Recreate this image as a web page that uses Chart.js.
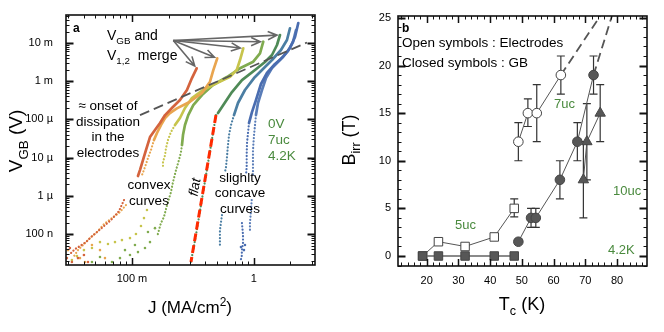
<!DOCTYPE html>
<html>
<head>
<meta charset="utf-8">
<script src="https://cdn.jsdelivr.net/npm/chart.js@4.4.1/dist/chart.umd.min.js"></script>
<style>
html, body { margin: 0; padding: 0; background: #fff; }
#wrap { position: relative; width: 664px; height: 332px; }
canvas { position: absolute; top: 0; }
#left { left: 0; }
#right { left: 332px; }
</style>
</head>
<body>
<div id="wrap">
  <canvas id="left" width="332" height="332"></canvas>
  <canvas id="right" width="332" height="332"></canvas>
</div>
<script>
// ---------- panel a : V_GB vs J ----------
const jTickValues = [0.1, 1];
const jTickLabels = ['100 m', '1'];
const vTickValues = [1e-2, 1e-3, 1e-4, 1e-5, 1e-6, 1e-7];
const vTickLabels = ['10 m', '1 m', '100 µ', '10 µ', '1 µ', '100 n'];

const curveColors = ['#d4633d', '#e9a54f', '#c7c44c', '#80ab4f', '#4f8a57', '#4b7ea3', '#4a6db0', '#5a7db8'];

const curve1Line = [[0.340,2.18e-3],[0.311,1.21e-3],[0.283,5.89e-4],[0.248,3.22e-4],[0.213,1.99e-4],[0.187,1.30e-4],[0.170,8.05e-5],[0.1545,5.28e-5],[0.1406,3.46e-5],[0.1303,1.58e-5],[0.1231,8.65e-6],[0.1163,4.73e-6],[0.1120,3.30e-6]];
const curve1Dots = [[[0.0860,7.76e-7],[0.0782,4.00e-7],[0.0672,2.32e-7],[0.0589,1.62e-7],[0.0516,1.13e-7],[0.0461,8.34e-8],[0.0419,6.17e-8],[0.0374,4.85e-8],[0.0340,4.04e-8],[0.0309,2.99e-8]]];
const curve1Scatter = [[0.0292,2.35e-8],[0.0321,1.85e-8],[0.0360,2.35e-8],[0.0403,2.82e-8],[0.0435,1.85e-8],[0.0309,4.30e-8]];

const curve2Line = [[0.502,3.98e-3],[0.466,1.96e-3],[0.4375,9.70e-4],[0.376,4.91e-4],[0.2997,2.90e-4],[0.234,1.95e-4],[0.205,1.47e-4],[0.187,1.09e-4],[0.173,7.13e-5],[0.1605,4.41e-5],[0.1516,2.89e-5]];
const curve2Dots = [[[0.1516,2.89e-5],[0.1432,1.58e-5],[0.1353,9.76e-6],[0.1279,5.67e-6],[0.1209,3.50e-6]],
  [[0.0893,5.74e-7],[0.0797,3.77e-7],[0.0685,2.62e-7],[0.0589,1.82e-7],[0.0516,1.13e-7],[0.0452,7.85e-8],[0.0403,5.47e-8],[0.0360,3.81e-8],[0.0334,2.65e-8]]];
const curve2Scatter = [[0.0298,3.81e-8],[0.0374,2.35e-8],[0.0469,5.15e-8],[0.0546,3.81e-8],[0.0600,2.35e-8],[0.0411,1.85e-8]];

const curve3Line = [[0.821,7.26e-3],[0.772,3.59e-3],[0.725,1.96e-3],[0.639,1.31e-3],[0.4995,8.97e-4],[0.383,5.89e-4],[0.311,3.63e-4],[0.2725,1.99e-4],[0.248,1.09e-4],[0.2256,7.13e-5]];
const curve3Dots = [[[0.2256,7.13e-5],[0.209,4.68e-5],[0.1976,2.89e-5],[0.1903,1.78e-5],[0.187,1.17e-5],[0.1798,7.67e-6],[0.1798,5.67e-6]]];
const curve3Scatter = [[0.1328,4.25e-7],[0.1255,2.62e-7],[0.1186,1.62e-7],[0.1078,1.00e-7],[0.0963,7.85e-8],[0.0827,6.96e-8],[0.0725,6.17e-8],[0.0635,5.47e-8],[0.0546,6.17e-8],[0.0469,4.30e-8],[0.0403,3.81e-8],[0.0353,2.65e-8],[0.0321,2.08e-8]];

const curve4Line = [[1.199,1.08e-2],[1.127,5.37e-3],[0.992,3.24e-3],[0.772,2.18e-3],[0.603,1.29e-3],[0.463,7.95e-4],[0.376,4.36e-4],[0.319,2.38e-4],[0.290,1.30e-4],[0.2725,7.13e-5],[0.2625,3.90e-5],[0.2575,2.14e-5]];
const curve4Dots = [[[0.2575,2.14e-5],[0.2527,1.40e-5],[0.2433,8.65e-6],[0.230,4.73e-6],[0.2173,2.30e-6],[0.208,1.18e-6],[0.194,5.74e-7],[0.183,2.79e-7],[0.173,1.94e-7],[0.1605,8.34e-8]]];
const curve4Scatter = [[0.1406,6.17e-8],[0.1279,4.30e-8],[0.1120,3.37e-8],[0.0963,2.82e-8],[0.0797,2.35e-8],[0.0685,1.85e-8],[0.0546,2.50e-8],[0.0469,1.85e-8],[0.0876,3.81e-8],[0.1058,5.15e-8],[0.1545,1.43e-7],[0.1353,1.13e-7]];

const curve5Line = [[1.645,1.62e-2],[1.554,8.87e-3],[1.414,4.85e-3],[1.238,3.18e-3],[1.025,1.96e-3],[0.801,1.07e-3],[0.663,5.21e-4],[0.570,2.53e-4],[0.509,1.47e-4]];
const curve5Dots = [[[0.490,1.30e-4],[0.446,2.14e-5],[0.4056,3.50e-6],[0.369,5.74e-7],[0.3356,9.41e-8],[0.3053,1.85e-8]]];

const curve6Line = [[1.987,2.43e-2],[1.877,1.20e-2],[1.676,6.56e-3],[1.414,3.59e-3],[1.215,2.22e-3],[1.006,1.21e-3],[0.848,5.89e-4],[0.743,2.69e-4],[0.689,1.30e-4]];
const curve6Dots = [[[0.689,1.30e-4],[0.651,7.13e-5],[0.627,3.90e-5],[0.615,2.14e-5],[0.603,1.04e-5],[0.592,5.67e-6],[0.581,4.19e-6]],
  [[0.549,3.14e-7],[0.539,2.06e-7],[0.528,1.27e-7],[0.528,7.85e-8],[0.528,4.56e-8]]];

const curve7Line = [[2.325,3.34e-2],[2.185,1.44e-2],[1.987,7.40e-3],[1.741,4.30e-3],[1.496,2.82e-3],[1.286,1.64e-3],[1.148,8.45e-4],[1.044,3.22e-4],[0.968,1.56e-4],[0.915,8.05e-5]];
const curve7Dots = [[[0.915,8.05e-5],[0.898,4.41e-5],[0.881,2.41e-5],[0.876,1.17e-5],[0.876,5.67e-6],[0.865,3.50e-6]],
  [[0.801,1.94e-7],[0.817,9.41e-8],[0.817,5.81e-8],[0.801,3.81e-8],[0.797,2.50e-8],[0.772,1.85e-8]]];
const curve7Scatter = [[0.832,3.81e-8],[0.848,5.15e-8],[0.786,4.56e-8]];

const curve8Line = [[2.227,2.19e-2],[2.103,1.06e-2],[1.913,6.17e-3],[1.645,3.59e-3],[1.414,2.22e-3],[1.262,1.21e-3],[1.170,5.89e-4],[1.085,2.69e-4],[1.044,1.30e-4]];
const curve8Dots = [[[1.044,1.30e-4],[1.025,7.13e-5],[1.006,3.90e-5],[0.987,1.58e-5],[0.987,6.40e-6],[0.987,3.50e-6]],
  [[0.963,7.76e-7],[0.950,4.25e-7],[0.932,1.94e-7],[0.932,1.13e-7]]];

const flatFit = [[0.490,1.30e-4],[0.3053,1.85e-8]];
const onsetLine = [[0.1164,1.30e-4],[2.74,1.03e-2]];
const mergeArrowFrom = [0.2185, 0.01162];

// ---------- panel b : B_irr vs Tc ----------
const tcTickValues = [20, 30, 40, 50, 60, 70, 80];
const bTickValues = [0, 5, 10, 15, 20, 25];

const tc5 = [18.7, 23.7, 32.1, 41.3, 47.6];
const bElec5 = [0, 1.5, 1.0, 2.0, 5.0];
const bElec5Lo = [0, 1.5, 1.0, 2.0, 4.1];
const bElec5Hi = [0, 1.5, 1.0, 2.0, 6.0];
const bGB5 = [0, 0, 0, 0, 0];

const tc7Elec = [48.9, 51.9, 54.7, 62.3];
const bElec7 = [12, 15, 15, 19];
const bElec7Lo = [10, 13.6, 12, 17];
const bElec7Hi = [14, 16.5, 18, 21];

const tc7GB = [48.9, 52.9, 54.4, 62.0, 67.5, 72.6];
const bGB7 = [1.5, 4, 4, 8, 12, 19];
const bGB7Lo = [1.5, 3, 3, 6, 10, 17];
const bGB7Hi = [1.5, 5, 5, 10, 14, 21];

const tc10 = [69.4, 70.5, 74.7];
const bGB10 = [8, 12, 15];
const bGB10Lo = [4, 8, 12];
const bGB10Hi = [12, 16, 18];

const elecTrend7 = [[62.3, 19], [74.7, 25.2]];
const gbTrend7 = [[72.6, 19], [78.4, 25.2]];

const FONT = '"Liberation Sans", Arial, Helvetica, sans-serif';
const GREEN = '#4a8a3e';

function pts(list) { return list.map(([x, y]) => ({ x, y })); }

function solid(list, color) {
    return { data: pts(list), showLine: true, borderColor: color, borderWidth: 2.7, pointRadius: 0,
        borderCapStyle: 'round', borderJoinStyle: 'round', order: 2 };
}
function dotted(list, color) {
    return { data: pts(list), showLine: true, borderColor: color, borderWidth: 2.2, pointRadius: 0,
        borderDash: [0.1, 3.2], borderCapStyle: 'round', order: 2 };
}
function specks(list, color) {
    return { data: pts(list), showLine: false, pointRadius: 1.3, pointBackgroundColor: color,
        pointBorderWidth: 0, order: 2 };
}

const curves = [
    [curve1Line, curve1Dots, curve1Scatter],
    [curve2Line, curve2Dots, curve2Scatter],
    [curve3Line, curve3Dots, curve3Scatter],
    [curve4Line, curve4Dots, curve4Scatter],
    [curve5Line, curve5Dots, []],
    [curve6Line, curve6Dots, []],
    [curve7Line, curve7Dots, curve7Scatter],
    [curve8Line, curve8Dots, []]
];

const leftSets = [];
curves.forEach(([line, dotSegs, scatter], i) => {
    const c = curveColors[i];
    leftSets.push(solid(line, c));
    dotSegs.forEach(seg => leftSets.push(dotted(seg, c)));
    if (scatter.length) leftSets.push(specks(scatter, c));
});
leftSets.push({ data: pts(flatFit), showLine: true, borderColor: '#ff2a00', borderWidth: 3,
    borderDash: [8, 4], pointRadius: 0, order: 1 });
leftSets.push({ data: pts(onsetLine), showLine: true, borderColor: '#555', borderWidth: 1.8,
    borderDash: [10, 5], pointRadius: 0, order: 1 });

function minorLog(min, max) {
    const out = [];
    for (let e = Math.floor(Math.log10(min)); e <= Math.ceil(Math.log10(max)); e++) {
        for (let k = 2; k <= 9; k++) {
            const v = k * Math.pow(10, e);
            if (v > min && v < max) out.push(v);
        }
    }
    return out;
}
function stepValues(min, max, step) {
    const out = [];
    for (let v = Math.ceil(min / step) * step; v < max; v += step) out.push(v);
    return out;
}

function drawParts(ctx, parts, x, y, size, align, style) {
    let w = 0;
    const sized = parts.map(p => {
        const s = (p.sub || p.sup) ? size * 0.7 : size;
        ctx.font = `${style || ''} ${s}px ${FONT}`;
        const pw = ctx.measureText(p.t).width;
        w += pw;
        return { ...p, s, pw };
    });
    let cx = align === 'center' ? x - w / 2 : align === 'right' ? x - w : x;
    ctx.textAlign = 'left';
    ctx.textBaseline = 'alphabetic';
    for (const p of sized) {
        ctx.font = `${style || ''} ${p.s}px ${FONT}`;
        const dy = p.sub ? size * 0.3 : p.sup ? -size * 0.42 : 0;
        ctx.fillText(p.t, cx, y + dy);
        cx += p.pw;
    }
}

// inward ticks on all four sides plus the box
const framePlugin = {
    id: 'frame',
    afterDatasetsDraw(chart, args, o) {
        const { ctx, chartArea: a, scales: { x, y } } = chart;
        ctx.save();
        ctx.strokeStyle = '#111';
        const xt = (vals, len, w) => {
            ctx.lineWidth = w;
            vals.forEach(v => {
                const p = Math.round(x.getPixelForValue(v)) + 0.5;
                ctx.beginPath();
                ctx.moveTo(p, a.bottom); ctx.lineTo(p, a.bottom - len);
                ctx.moveTo(p, a.top); ctx.lineTo(p, a.top + len);
                ctx.stroke();
            });
        };
        const yt = (vals, len, w) => {
            ctx.lineWidth = w;
            vals.forEach(v => {
                const p = Math.round(y.getPixelForValue(v)) + 0.5;
                ctx.beginPath();
                ctx.moveTo(a.left, p); ctx.lineTo(a.left + len, p);
                ctx.moveTo(a.right, p); ctx.lineTo(a.right - len, p);
                ctx.stroke();
            });
        };
        xt(o.xMinor, 3.5, 1); xt(o.xMajor, 7, 1.5);
        yt(o.yMinor, 3.5, 1); yt(o.yMajor, 7.5, 1.8);
        ctx.lineWidth = 1.6;
        ctx.strokeRect(a.left, a.top, a.right - a.left, a.bottom - a.top);
        ctx.restore();
    }
};

const notesPlugin = {
    id: 'notes',
    afterDraw(chart, args, o) {
        const ctx = chart.ctx;
        ctx.save();
        (o.items || []).forEach(it => {
            ctx.save();
            ctx.fillStyle = it.color || '#000';
            ctx.translate(it.x, it.y);
            if (it.rot) ctx.rotate(it.rot * Math.PI / 180);
            drawParts(ctx, it.parts, 0, 0, it.size, it.align || 'left', it.style);
            ctx.restore();
        });
        if (o.arrows) o.arrows(chart);
        ctx.restore();
    }
};

const errorPlugin = {
    id: 'errbars',
    beforeDatasetsDraw(chart) {
        const { ctx, scales: { x, y } } = chart;
        ctx.save();
        ctx.strokeStyle = '#333';
        ctx.lineWidth = 1.2;
        chart.data.datasets.forEach(ds => {
            if (!ds.errLo) return;
            ds.data.forEach((p, i) => {
                if (ds.errLo[i] === ds.errHi[i]) return;
                const px = x.getPixelForValue(p.x);
                const lo = y.getPixelForValue(ds.errLo[i]);
                const hi = y.getPixelForValue(ds.errHi[i]);
                ctx.beginPath();
                ctx.moveTo(px, lo); ctx.lineTo(px, hi);
                ctx.moveTo(px - 4, lo); ctx.lineTo(px + 4, lo);
                ctx.moveTo(px - 4, hi); ctx.lineTo(px + 4, hi);
                ctx.stroke();
            });
        });
        ctx.restore();
    }
};

function drawMergeArrows(chart) {
    const { ctx, scales: { x, y } } = chart;
    const x0 = x.getPixelForValue(mergeArrowFrom[0]);
    const y0 = y.getPixelForValue(mergeArrowFrom[1]);
    ctx.strokeStyle = '#666';
    ctx.lineWidth = 1.6;
    [curve1Line, curve2Line, curve3Line, curve4Line, curve5Line].forEach(line => {
        const tx = x.getPixelForValue(line[0][0]);
        const ty = y.getPixelForValue(line[0][1]);
        const ang = Math.atan2(ty - y0, tx - x0);
        const ex = tx - 3 * Math.cos(ang), ey = ty - 3 * Math.sin(ang);
        ctx.beginPath();
        ctx.moveTo(x0, y0); ctx.lineTo(ex, ey);
        ctx.moveTo(ex - 10 * Math.cos(ang - 0.42), ey - 10 * Math.sin(ang - 0.42));
        ctx.lineTo(ex, ey);
        ctx.lineTo(ex - 10 * Math.cos(ang + 0.42), ey - 10 * Math.sin(ang + 0.42));
        ctx.stroke();
    });
}

function labelFrom(values, labels) {
    return v => {
        const i = values.findIndex(t => Math.abs(t - v) <= Math.abs(t) * 1e-6);
        return i < 0 ? '' : labels[i];
    };
}

// keep the chart area exactly where the axes say, no label overhang padding
function fixBox(size, key) {
    return s => {
        s[key] = size;
        s.paddingTop = 0; s.paddingBottom = 0; s.paddingLeft = 0; s.paddingRight = 0;
    };
}

const tickFont = { family: FONT, size: 11 };
const t = (s) => [{ t: s }];

new Chart(document.getElementById('left'), {
    type: 'scatter',
    data: { datasets: leftSets },
    options: {
        responsive: false,
        animation: false,
        layout: { padding: { top: 15, right: 17, left: 0, bottom: 0 } },
        plugins: {
            legend: { display: false },
            tooltip: { enabled: false },
            frame: {
                xMajor: jTickValues, xMinor: minorLog(0.0287, 3.19),
                yMajor: vTickValues, yMinor: minorLog(1.55e-8, 0.0541)
            },
            notes: {
                arrows: drawMergeArrows,
                items: [
                    { parts: t('a'), x: 73, y: 32, size: 12, style: 'bold' },
                    { parts: [{ t: 'V' }, { t: 'GB', sub: 1 }, { t: ' and' }], x: 107, y: 40, size: 14 },
                    { parts: [{ t: 'V' }, { t: '1,2', sub: 1 }, { t: '  merge' }], x: 107, y: 60, size: 14 },
                    { parts: t('≈ onset of'), x: 108, y: 110, size: 13.5, align: 'center' },
                    { parts: t('dissipation'), x: 108, y: 126, size: 13.5, align: 'center' },
                    { parts: t('in the'), x: 108, y: 141, size: 13.5, align: 'center' },
                    { parts: t('electrodes'), x: 108, y: 157, size: 13.5, align: 'center' },
                    { parts: t('0V'), x: 268, y: 128, size: 13.5, color: GREEN },
                    { parts: t('7uc'), x: 268, y: 144, size: 13.5, color: GREEN },
                    { parts: t('4.2K'), x: 268, y: 160, size: 13.5, color: GREEN },
                    { parts: t('convex'), x: 149, y: 189, size: 13.5, align: 'center' },
                    { parts: t('curves'), x: 149, y: 205, size: 13.5, align: 'center' },
                    { parts: t('flat'), x: 199, y: 188, size: 13.5, align: 'center', style: 'italic', rot: -80 },
                    { parts: t('slighlty'), x: 240, y: 182, size: 13.5, align: 'center' },
                    { parts: t('concave'), x: 240, y: 197, size: 13.5, align: 'center' },
                    { parts: t('curves'), x: 240, y: 213, size: 13.5, align: 'center' },
                    { parts: [{ t: 'J (MA/cm' }, { t: '2', sup: 1 }, { t: ')' }], x: 190, y: 313, size: 17, align: 'center' },
                    { parts: [{ t: 'V' }, { t: 'GB', sub: 1 }, { t: ' (V)' }], x: 22, y: 141, size: 19, align: 'center', rot: -90 }
                ]
            }
        },
        scales: {
            x: {
                type: 'logarithmic', min: 0.0287, max: 3.19,
                grid: { display: false, drawTicks: false }, border: { display: false },
                afterFit: fixBox(67, 'height'),
                afterBuildTicks: s => { s.ticks = jTickValues.map(v => ({ value: v })); },
                ticks: { callback: labelFrom(jTickValues, jTickLabels), font: tickFont, color: '#000',
                    padding: 7, maxRotation: 0, autoSkip: false }
            },
            y: {
                type: 'logarithmic', min: 1.55e-8, max: 0.0541,
                grid: { display: false, drawTicks: false }, border: { display: false },
                afterFit: fixBox(66, 'width'),
                afterBuildTicks: s => { s.ticks = vTickValues.map(v => ({ value: v })); },
                ticks: { callback: labelFrom(vTickValues, vTickLabels), font: tickFont, color: '#000',
                    padding: 13, autoSkip: false }
            }
        }
    },
    plugins: [framePlugin, notesPlugin]
});

// ---------- panel b ----------
function xy(xs, ys) { return xs.map((x, i) => ({ x, y: ys[i] })); }
const openPt = { pointBackgroundColor: '#fff', pointBorderColor: '#444', pointBorderWidth: 1 };
const fullPt = { pointBackgroundColor: '#575757', pointBorderColor: '#444', pointBorderWidth: 1 };

const rightSets = [
    { data: xy(tc5, bGB5), showLine: true, borderColor: '#8a8a8a', borderWidth: 2, pointStyle: 'rect', pointRadius: 6, ...fullPt, order: 1 },
    { data: xy(tc5, bElec5), showLine: true, borderColor: '#555', borderWidth: 1, pointStyle: 'rect', pointRadius: 6, ...openPt,
        errLo: bElec5Lo, errHi: bElec5Hi, order: 2 },
    { data: xy(tc7Elec, bElec7), showLine: true, borderColor: '#555', borderWidth: 1, pointStyle: 'circle', pointRadius: 4.8, ...openPt,
        errLo: bElec7Lo, errHi: bElec7Hi, order: 2 },
    { data: xy(tc7GB, bGB7), showLine: true, borderColor: '#555', borderWidth: 1, pointStyle: 'circle', pointRadius: 4.8, ...fullPt,
        errLo: bGB7Lo, errHi: bGB7Hi, order: 2 },
    { data: xy(tc10, bGB10), showLine: true, borderColor: '#555', borderWidth: 1, pointStyle: 'triangle', pointRadius: 6, ...fullPt,
        errLo: bGB10Lo, errHi: bGB10Hi, order: 2 },
    { data: pts(elecTrend7), showLine: true, borderColor: '#555', borderWidth: 1.8, borderDash: [9, 5], pointRadius: 0, order: 3 },
    { data: pts(gbTrend7), showLine: true, borderColor: '#555', borderWidth: 1.8, borderDash: [9, 5], pointRadius: 0, order: 3 }
];

new Chart(document.getElementById('right'), {
    type: 'scatter',
    data: { datasets: rightSets },
    options: {
        responsive: false,
        animation: false,
        layout: { padding: { top: 16, right: 17, left: 0, bottom: 0 } },
        plugins: {
            legend: { display: false },
            tooltip: { enabled: false },
            frame: {
                xMajor: tcTickValues, xMinor: stepValues(10.95, 89.46, 2),
                yMajor: bTickValues, yMinor: stepValues(-1.05, 25.2, 1)
            },
            notes: {
                items: [
                    { parts: t('b'), x: 70, y: 32, size: 12, style: 'bold' },
                    { parts: t('Open symbols : Electrodes'), x: 70, y: 47, size: 13.5 },
                    { parts: t('Closed symbols : GB'), x: 70, y: 67, size: 13.5 },
                    { parts: t('7uc'), x: 222, y: 108, size: 13, color: GREEN },
                    { parts: t('10uc'), x: 281, y: 195, size: 13, color: GREEN },
                    { parts: t('5uc'), x: 123, y: 229, size: 13, color: GREEN },
                    { parts: t('4.2K'), x: 276, y: 254, size: 13, color: GREEN },
                    { parts: [{ t: 'T' }, { t: 'c', sub: 1 }, { t: ' (K)' }], x: 190, y: 310, size: 18, align: 'center' },
                    { parts: [{ t: 'B' }, { t: 'irr', sub: 1 }, { t: ' (T)' }], x: 23, y: 140, size: 18, align: 'center', rot: -90 }
                ]
            }
        },
        scales: {
            x: {
                type: 'linear', min: 10.95, max: 89.46,
                grid: { display: false, drawTicks: false }, border: { display: false },
                afterFit: fixBox(66, 'height'),
                afterBuildTicks: s => { s.ticks = tcTickValues.map(v => ({ value: v })); },
                ticks: { font: tickFont, color: '#000', padding: 8, maxRotation: 0, autoSkip: false }
            },
            y: {
                type: 'linear', min: -1.05, max: 25.2,
                grid: { display: false, drawTicks: false }, border: { display: false },
                afterFit: fixBox(66, 'width'),
                afterBuildTicks: s => { s.ticks = bTickValues.map(v => ({ value: v })); },
                ticks: { font: tickFont, color: '#000', padding: 7, autoSkip: false }
            }
        }
    },
    plugins: [errorPlugin, framePlugin, notesPlugin]
});
</script>
</body>
</html>
